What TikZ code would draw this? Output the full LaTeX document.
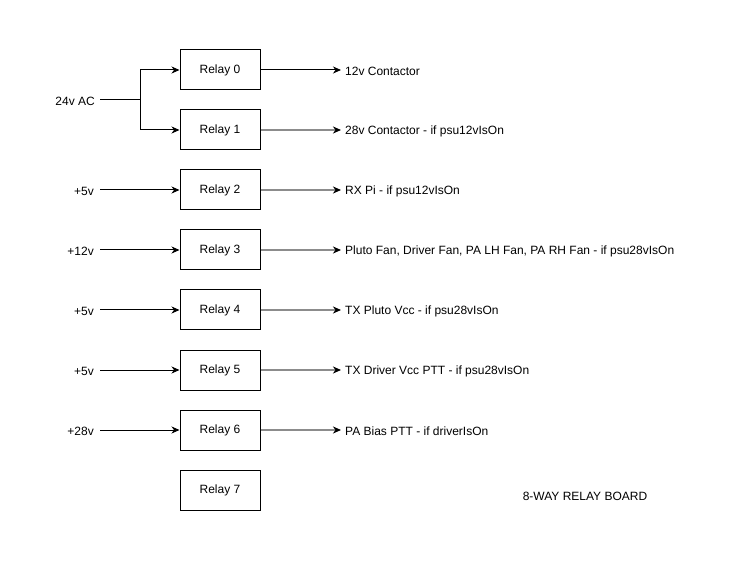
\documentclass[tikz,border=0pt]{standalone}
\usepackage{fontspec}
\setmainfont{Liberation Sans}
\usetikzlibrary{arrows.meta}
\begin{document}
\begin{tikzpicture}[x=1pt,y=-1pt,
  relaybox/.style={draw,line width=1pt,minimum width=80pt,minimum height=40pt,inner sep=0pt,font=\fontsize{12}{14}\selectfont},
  lbl/.style={inner sep=0pt,font=\fontsize{12}{14}\selectfont},
  conn/.style={line width=1pt,-{Stealth[length=8pt,width=7pt,inset=2.5pt]}},
  grayconn/.style={conn,draw=gray!90,line width=1.6pt,-{Stealth[length=8pt,width=7pt,inset=2.5pt,black]}}
]
\useasboundingbox (0,0) rectangle (731,561);
\foreach \i in {0,...,7}{
  \node[relaybox] (r\i) at (220,{70+60*\i}) {Relay \i};
}
% outputs
\node[lbl,anchor=west] (o0) at (345,71) {12v Contactor};
\node[lbl,anchor=west] (o1) at (345,131) {28v Contactor - if psu12vIsOn};
\node[lbl,anchor=west] (o2) at (345,191) {RX Pi - if psu12vIsOn};
\node[lbl,anchor=west] (o3) at (345,251) {Pluto Fan, Driver Fan, PA LH Fan, PA RH Fan - if psu28vIsOn};
\node[lbl,anchor=west] (o4) at (345,311) {TX Pluto Vcc - if psu28vIsOn};
\node[lbl,anchor=west] (o5) at (345,371) {TX Driver Vcc PTT - if psu28vIsOn};
\node[lbl,anchor=west] (o6) at (345,431) {PA Bias PTT - if driverIsOn};
\draw[conn] (r0.east) -- ([xshift=-4pt]o0.west |- r0.east);
\foreach \i in {1,...,6}{
  \draw[grayconn] (r\i.east) -- ([xshift=-4pt]o\i.west |- r\i.east);
}
% inputs
\node[lbl,anchor=east] (i01) at (95,101) {24v AC};
\coordinate (j) at (140,100);
\draw[line width=1pt] (i01.east |- j) ++(5,0) coordinate (js) -- (j);
\draw[conn] (j) |- (r0.west);
\draw[conn] (j) |- (r1.west);
\node[lbl,anchor=east] (i2) at (94,191) {+5v};
\node[lbl,anchor=east] (i3) at (94,251) {+12v};
\node[lbl,anchor=east] (i4) at (94,311) {+5v};
\node[lbl,anchor=east] (i5) at (94,371) {+5v};
\node[lbl,anchor=east] (i6) at (94,431) {+28v};
\foreach \i in {2,...,6}{
  \draw[conn] ([xshift=6pt]i\i.east |- r\i.west) -- (r\i.west);
}
\node[lbl] (title) at (585,496) {8-WAY RELAY BOARD};
\end{tikzpicture}
\end{document}
